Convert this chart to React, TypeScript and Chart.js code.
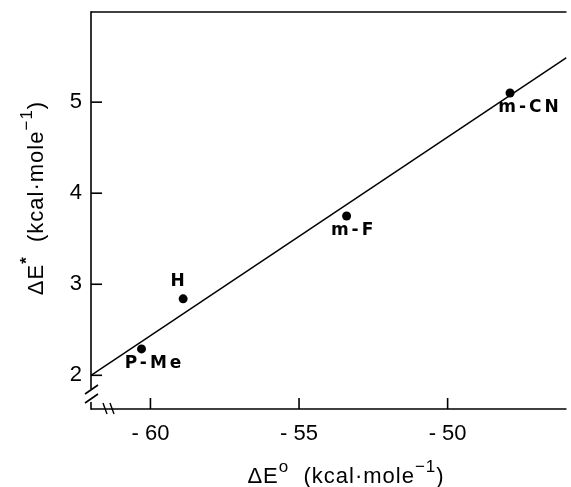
import React, { useEffect, useRef } from "react";
import { Chart, registerables } from "chart.js";

Chart.register(...registerables);

// ---- data ----
const substituents = ["P-Me", "H", "m-F", "m-CN"];
const deltaE0 = [-60.3, -58.9, -53.4, -47.9];
const deltaEStar = [2.29, 2.84, 3.75, 5.1];
const fitX = [-62, -46];
const fitY = [2.0, 5.49];
const xTicks = [-60, -55, -50];
const yTicks = [2, 3, 4, 5];
const xRange = [-62, -46];
const yRange = [1.63, 5.99];

// ---- styles (label offsets in px from the point) ----
const LABEL_OFFSETS: [number, number][] = [
  [13, 15],
  [-4, -17],
  [7, 15],
  [20, 15],
];
const FONT = '"Liberation Sans", Arial, sans-serif';

type Part = { t: string; sup?: boolean; bold?: boolean };

function drawRich(ctx: CanvasRenderingContext2D, parts: Part[], cx: number, baseline: number, size: number) {
  const fontOf = (p: Part) =>
    p.sup ? `${p.bold ? "bold " : ""}${Math.round(size * 0.78)}px ${FONT}` : `${size}px ${FONT}`;
  let w = 0;
  parts.forEach((p) => {
    ctx.font = fontOf(p);
    w += ctx.measureText(p.t).width;
  });
  let x = cx - w / 2;
  ctx.textAlign = "left";
  ctx.textBaseline = "alphabetic";
  parts.forEach((p) => {
    ctx.font = fontOf(p);
    ctx.fillText(p.t, x, p.sup ? baseline - size * 0.5 : baseline);
    x += ctx.measureText(p.t).width;
  });
}

const decor = {
  id: "decor",
  afterDraw(chart: any) {
    const ctx: CanvasRenderingContext2D = chart.ctx;
    const { left, right, top, bottom } = chart.chartArea;
    const xs = chart.scales.x;
    const ys = chart.scales.y;
    const seg = (x1: number, y1: number, x2: number, y2: number) => {
      ctx.beginPath();
      ctx.moveTo(x1, y1);
      ctx.lineTo(x2, y2);
      ctx.stroke();
    };
    ctx.save();
    ctx.strokeStyle = "#000";
    ctx.fillStyle = "#000";
    ctx.lineWidth = 1.6;
    ctx.lineCap = "butt";
    // frame
    seg(left, top, right, top);
    seg(left, top - 0.8, left, bottom - 20);
    seg(left, bottom - 7, left, bottom + 0.8);
    seg(left, bottom, right, bottom);
    // inward ticks
    xTicks.forEach((v) => {
      const px = xs.getPixelForValue(v);
      seg(px, bottom, px, bottom - 11);
    });
    yTicks.forEach((v) => {
      const py = ys.getPixelForValue(v);
      seg(left, py, left + 11, py);
    });
    // y axis break
    seg(left - 6, bottom - 15, left + 7, bottom - 24);
    seg(left - 6, bottom - 6, left + 7, bottom - 15);
    // x axis break
    ctx.lineWidth = 1.4;
    seg(left + 12, bottom - 6, left + 16, bottom + 5);
    seg(left + 19, bottom - 6, left + 23, bottom + 5);
    // point labels
    ctx.font = `bold 17px "DejaVu Sans", sans-serif`;
    (ctx as any).letterSpacing = "3px";
    ctx.textAlign = "center";
    ctx.textBaseline = "middle";
    substituents.forEach((s, i) => {
      const px = xs.getPixelForValue(deltaE0[i]);
      const py = ys.getPixelForValue(deltaEStar[i]);
      ctx.fillText(s, px + LABEL_OFFSETS[i][0], py + LABEL_OFFSETS[i][1]);
    });
    (ctx as any).letterSpacing = "1px";
    // axis titles
    drawRich(
      ctx,
      [{ t: "ΔE" }, { t: "o", sup: true }, { t: "  (kcal·mole" }, { t: "−1", sup: true }, { t: ")" }],
      346,
      483,
      22
    );
    ctx.save();
    ctx.translate(43, 198);
    ctx.rotate(-Math.PI / 2);
    drawRich(
      ctx,
      [{ t: "ΔE" }, { t: "*", sup: true, bold: true }, { t: "  (kcal·mole" }, { t: "−1", sup: true }, { t: ")" }],
      0,
      0,
      22
    );
    ctx.restore();
    ctx.restore();
  },
};

export default function App() {
  const ref = useRef<HTMLCanvasElement>(null);
  useEffect(() => {
    document.body.style.margin = "0";
    const canvas = ref.current!;
    const chart = new Chart(canvas, {
      type: "scatter",
      data: {
        datasets: [
          {
            type: "line",
            data: fitX.map((x, i) => ({ x, y: fitY[i] })),
            borderColor: "#000",
            borderWidth: 1.5,
            pointRadius: 0,
            fill: false,
          } as any,
          {
            type: "scatter",
            data: deltaE0.map((x, i) => ({ x, y: deltaEStar[i] })),
            pointRadius: 4.5,
            backgroundColor: "#000",
            borderColor: "#000",
            borderWidth: 0,
          },
        ],
      },
      options: {
        responsive: false,
        animation: false,
        devicePixelRatio: 1,
        layout: { padding: { top: 12, right: 0, left: 0, bottom: 0 } },
        plugins: { legend: { display: false }, tooltip: { enabled: false } },
        scales: {
          x: {
            type: "linear",
            min: xRange[0],
            max: xRange[1],
            afterFit: (s: any) => {
              s.height = 78;
              s.paddingLeft = 0;
              s.paddingRight = 0;
            },
            afterBuildTicks: (s: any) => {
              s.ticks = xTicks.map((v) => ({ value: v }));
            },
            grid: { display: false, drawTicks: false },
            border: { display: false },
            ticks: {
              padding: 12,
              color: "#000",
              font: { family: FONT, size: 22 },
              callback: (v: any) => (Number(v) < 0 ? "- " + Math.abs(Number(v)) : String(v)),
            },
          },
          y: {
            type: "linear",
            min: yRange[0],
            max: yRange[1],
            afterFit: (s: any) => {
              s.width = 91;
              s.paddingTop = 0;
              s.paddingBottom = 0;
            },
            afterBuildTicks: (s: any) => {
              s.ticks = yTicks.map((v) => ({ value: v }));
            },
            grid: { display: false, drawTicks: false },
            border: { display: false },
            ticks: {
              padding: 9,
              color: "#000",
              font: { family: FONT, size: 22 },
            },
          },
        },
      },
      plugins: [decor],
    });
    return () => chart.destroy();
  }, []);
  return (
    <div style={{ width: 571, height: 487 }}>
      <canvas ref={ref} width={571} height={487} />
    </div>
  );
}
